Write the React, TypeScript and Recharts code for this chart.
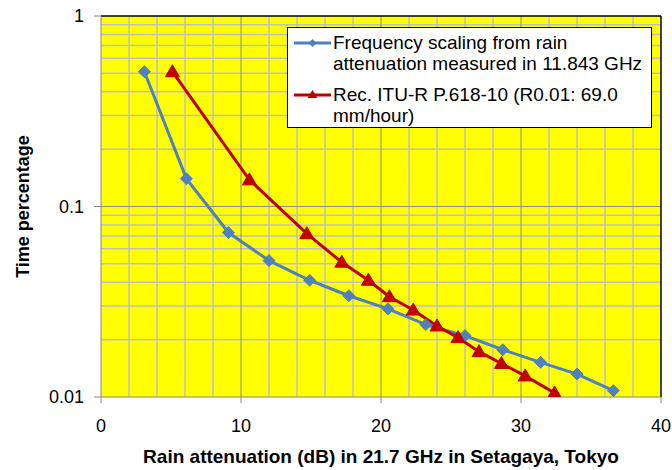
import React from "react";
import {
  LineChart,
  Line,
  XAxis,
  YAxis,
  ReferenceLine,
  ReferenceArea,
} from "recharts";

// values
const scaledX = [3.1, 6.1, 9.1, 12.0, 14.9, 17.7, 20.5, 23.2, 26.0, 28.7, 31.4, 34.0, 36.6];
const scaledY = [0.51, 0.14, 0.073, 0.052, 0.041, 0.034, 0.029, 0.024, 0.021, 0.0177, 0.0152, 0.0132, 0.0108];

const ituX = [5.1, 10.6, 14.7, 17.2, 19.1, 20.6, 22.3, 24.0, 25.5, 27.0, 28.6, 30.3, 32.4];
const ituY = [0.51, 0.138, 0.072, 0.051, 0.041, 0.0336, 0.0286, 0.0236, 0.0205, 0.0173, 0.015, 0.0129, 0.0105];

const xTicks = [0, 10, 20, 30, 40];
const yTicks = [0.01, 0.1, 1];
const xMinorGrid = [2, 4, 6, 8, 12, 14, 16, 18, 22, 24, 26, 28, 32, 34, 36, 38];
const xMajorGrid = [10, 20, 30];
const yMinorGrid = [0.02, 0.03, 0.04, 0.05, 0.06, 0.07, 0.08, 0.09, 0.2, 0.3, 0.4, 0.5, 0.6, 0.7, 0.8, 0.9];
const yMajorGrid = [0.1];

const seriesNames = [
  ["Frequency scaling from rain", "attenuation measured in 11.843 GHz"],
  ["Rec. ITU-R P.618-10 (R0.01: 69.0", "mm/hour)"],
];

const BLUE = "#4F81BD";
const RED = "#C00000";
const FONT = "Arial, 'Liberation Sans', sans-serif";

const scaledData = scaledX.map((x, i) => ({ x, y: scaledY[i] }));
const ituData = ituX.map((x, i) => ({ x, y: ituY[i] }));

const Diamond = (props: any) => {
  const { cx, cy } = props;
  if (cx == null || cy == null) return null;
  const r = 6;
  return (
    <polygon
      key={`d-${cx}-${cy}`}
      points={`${cx},${cy - r} ${cx + r},${cy} ${cx},${cy + r} ${cx - r},${cy}`}
      fill={BLUE}
      stroke={BLUE}
    />
  );
};

const Triangle = (props: any) => {
  const { cx, cy } = props;
  if (cx == null || cy == null) return null;
  return (
    <polygon
      key={`t-${cx}-${cy}`}
      points={`${cx},${cy - 7} ${cx + 7},${cy + 5} ${cx - 7},${cy + 5}`}
      fill={RED}
      stroke={RED}
    />
  );
};

// legend drawn as a plain box over the plot, like the Excel one
const LegendBox = () => {
  const icons = [
    { color: BLUE, shape: "diamond" },
    { color: RED, shape: "triangle" },
  ];
  return (
    <div
      style={{
        position: "absolute",
        left: 287,
        top: 27,
        background: "#fff",
        border: "1.5px solid #000",
        width: 365,
        height: 101,
        boxSizing: "border-box",
        padding: "4px 0 0 5px",
        fontFamily: FONT,
        fontSize: 19,
        lineHeight: "21px",
        color: "#000",
      }}
    >
      {seriesNames.map((lines, i) => (
        <div key={i} style={{ display: "flex", marginBottom: i === 0 ? 10 : 0 }}>
          <svg width={40} height={21} style={{ flexShrink: 0 }}>
            <line x1={1} y1={11} x2={38} y2={11} stroke={icons[i].color} strokeWidth={3} />
            {icons[i].shape === "diamond" ? (
              <polygon points="19.5,7 23.5,11 19.5,15 15.5,11" fill={BLUE} />
            ) : (
              <polygon points="19.5,6 24.5,14 14.5,14" fill={RED} />
            )}
          </svg>
          <div style={{ whiteSpace: "nowrap" }}>
            {lines.map((t, j) => (
              <div key={j}>{t}</div>
            ))}
          </div>
        </div>
      ))}
    </div>
  );
};

export default function App() {
  return (
    <div style={{ position: "absolute", left: 0, top: 0, width: 672, height: 470, background: "#fff" }}>
      <LineChart
        width={672}
        height={470}
        margin={{ top: 16, right: 11, left: 0, bottom: 0 }}
        style={{ fontFamily: FONT }}
      >
        <ReferenceArea x1={0} x2={40} y1={0.01} y2={1} fill="#FFFF00" fillOpacity={1} stroke="none" />
        {xMinorGrid.map((v) => (
          <ReferenceLine key={`xm${v}`} x={v} stroke="#BFBFBF" strokeWidth={1.5} />
        ))}
        {yMinorGrid.map((v) => (
          <ReferenceLine key={`ym${v}`} y={v} stroke="#BFBFBF" strokeWidth={1.5} />
        ))}
        {xMajorGrid.map((v) => (
          <ReferenceLine key={`xM${v}`} x={v} stroke="#8C8C8C" strokeWidth={1} />
        ))}
        {yMajorGrid.map((v) => (
          <ReferenceLine key={`yM${v}`} y={v} stroke="#8C8C8C" strokeWidth={1} />
        ))}
        <ReferenceLine y={1} stroke="#000" strokeWidth={1.5} />
        <ReferenceLine x={40} stroke="#000" strokeWidth={1.5} />
        <XAxis
          type="number"
          dataKey="x"
          domain={[0, 40]}
          ticks={xTicks}
          allowDataOverflow
          height={73}
          tickSize={6}
          tickMargin={16}
          stroke="#868686"
          tick={{ fill: "#000", fontSize: 18, fontFamily: FONT }}
          label={{
            value: "Rain attenuation (dB) in 21.7 GHz in Setagaya, Tokyo",
            position: "insideBottom",
            offset: 7,
            fill: "#000",
            fontSize: 19,
            fontWeight: "bold",
            fontFamily: FONT,
          }}
        />
        <YAxis
          type="number"
          dataKey="y"
          scale="log"
          domain={[0.01, 1]}
          ticks={yTicks}
          allowDataOverflow
          width={101}
          tickSize={7}
          tickMargin={10}
          stroke="#868686"
          tickFormatter={(v: number) => String(v)}
          tick={{ fill: "#000", fontSize: 18, fontFamily: FONT }}
          label={{
            value: "Time percentage",
            angle: -90,
            position: "insideLeft",
            offset: 23,
            fill: "#000",
            fontSize: 18,
            fontWeight: "bold",
            fontFamily: FONT,
            style: { textAnchor: "middle" },
          }}
        />
        <Line
          data={scaledData}
          dataKey="y"
          name="Frequency scaling from rain attenuation measured in 11.843 GHz"
          stroke={BLUE}
          strokeWidth={3}
          dot={Diamond}
          activeDot={false}
          isAnimationActive={false}
        />
        <Line
          data={ituData}
          dataKey="y"
          name="Rec. ITU-R P.618-10 (R0.01: 69.0 mm/hour)"
          stroke={RED}
          strokeWidth={3}
          dot={Triangle}
          activeDot={false}
          isAnimationActive={false}
        />
      </LineChart>
      <LegendBox />
    </div>
  );
}
